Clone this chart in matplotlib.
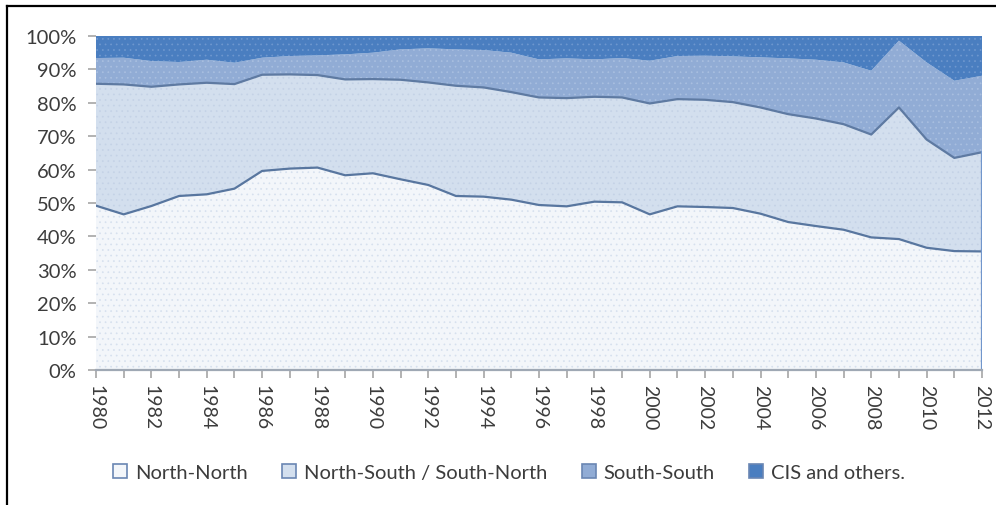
import numpy as np
import matplotlib
matplotlib.use("Agg")
import matplotlib.pyplot as plt
from matplotlib.patches import Patch
from matplotlib.lines import Line2D

# Share of trade flows by direction, percent of total
years = list(range(1980, 2013))
north_north = [49.2, 46.6, 49.1, 52.1, 52.6, 54.3, 59.6, 60.3, 60.6, 58.3, 58.9,
               57.1, 55.4, 52.1, 51.9, 51.0, 49.4, 49.0, 50.4, 50.2, 46.6,
               49.0, 48.8, 48.5, 46.8, 44.3, 43.1, 42.0, 39.7, 39.2, 36.6,
               35.6, 35.5]
north_south = [36.5, 38.9, 35.7, 33.4, 33.4, 31.3, 28.8, 28.2, 27.7, 28.7, 28.2,
               29.8, 30.7, 33.0, 32.7, 32.2, 32.2, 32.4, 31.4, 31.4, 33.2,
               32.1, 32.1, 31.7, 31.8, 32.3, 32.2, 31.6, 30.8, 39.4, 32.4,
               27.9, 29.7]
south_south = [7.7, 8.0, 7.7, 6.7, 6.9, 6.4, 5.1, 5.5, 5.9, 7.5, 7.9,
               9.1, 10.2, 10.9, 11.2, 11.8, 11.4, 11.9, 11.2, 11.8, 12.8,
               12.9, 13.2, 13.7, 15.0, 16.7, 17.6, 18.5, 19.1, 20.0, 23.1,
               23.1, 22.9]
cis_others = [6.6, 6.5, 7.5, 7.8, 7.1, 8.0, 6.5, 6.0, 5.8, 5.5, 5.0,
              4.0, 3.7, 4.0, 4.2, 5.0, 7.0, 6.7, 7.0, 6.6, 7.4,
              6.0, 5.9, 6.1, 6.4, 6.7, 7.1, 7.9, 10.4, 1.4, 7.9,
              13.4, 11.9]
series_names = ["North-North", "North-South / South-North", "South-South",
                "CIS and others."]
y_ticks = list(range(0, 101, 10))
x_label_years = list(range(1980, 2013, 2))

plt.rcParams["font.family"] = ["Lato", "DejaVu Sans"]
plt.rcParams["hatch.linewidth"] = 0.5
text_color = "#3c3c3c"

fill_colors = ["#f3f6fa", "#d3dfee", "#91acd5", "#4a7ec0"]
dot_colors = ["#d6e0ee", "#c4d2e6", "#a9bfe0", "#6f98cf"]
hatches = ["...", "...", "...", "..."]
edge_colors = ["#58769f", "#5e7aa2"]

fig = plt.figure(figsize=(9.96, 5.06), dpi=100)
ax = fig.add_axes([96 / 996, 1 - 371 / 506, (982 - 96) / 996, (371 - 37) / 506])

x = np.array(years)
layers = np.array([north_north, north_south, south_south, cis_others])
tops = np.cumsum(layers, axis=0)
bottoms = np.vstack([np.zeros(len(years)), tops[:-1]])

for i in range(4):
    ax.fill_between(x, bottoms[i], tops[i], facecolor=fill_colors[i],
                    linewidth=0, zorder=1)
    ax.fill_between(x, bottoms[i], tops[i], facecolor="none",
                    edgecolor=dot_colors[i], hatch=hatches[i],
                    linewidth=0, zorder=1.5)

for i in range(2):
    ax.plot(x, tops[i], color=edge_colors[i], linewidth=1.6, zorder=3,
            solid_joinstyle="round")

# right-hand closing edge of the lower areas
ax.plot([x[-1], x[-1]], [0, tops[1][-1]], color="#7196cc", linewidth=1.6, zorder=3)

ax.set_xlim(years[0], years[-1])
ax.set_ylim(0, 100)

ax.set_yticks(y_ticks)
ax.set_yticklabels([f"{v}%" for v in y_ticks])
ax.set_xticks(years)
ax.set_xticklabels([str(y) if y in x_label_years else "" for y in years],
                   rotation=270)

ax.tick_params(axis="y", length=6, width=1.2, color="#a6a6a6", pad=8,
               labelsize=14.5, labelcolor=text_color)
ax.tick_params(axis="x", length=6, width=1.2, color="#a6a6a6", pad=4,
               labelsize=14, labelcolor=text_color)

for side in ["top", "right", "left"]:
    ax.spines[side].set_visible(False)
ax.spines["bottom"].set_color("#9fa8b4")
ax.spines["bottom"].set_linewidth(1.6)
ax.spines["bottom"].set_zorder(4)

handles = [Patch(facecolor=fill_colors[i], edgecolor="#6a86b3", linewidth=1.2)
           for i in range(4)]
leg = fig.legend(handles, series_names, loc="center", bbox_to_anchor=(0.511, 0.065),
                 ncol=4, frameon=False, fontsize=14.5, handlelength=0.7,
                 handleheight=0.7, handletextpad=0.4, columnspacing=1.7)
for t in leg.get_texts():
    t.set_color(text_color)

# outer frame lines
fig.add_artist(Line2D([7 / 996, 7 / 996], [0, 1 - 7 / 506], color="black",
                      linewidth=1.6, transform=fig.transFigure))
fig.add_artist(Line2D([7 / 996, 1], [1 - 7 / 506, 1 - 7 / 506], color="black",
                      linewidth=1.6, transform=fig.transFigure))

fig.savefig("out.png", dpi=100)
